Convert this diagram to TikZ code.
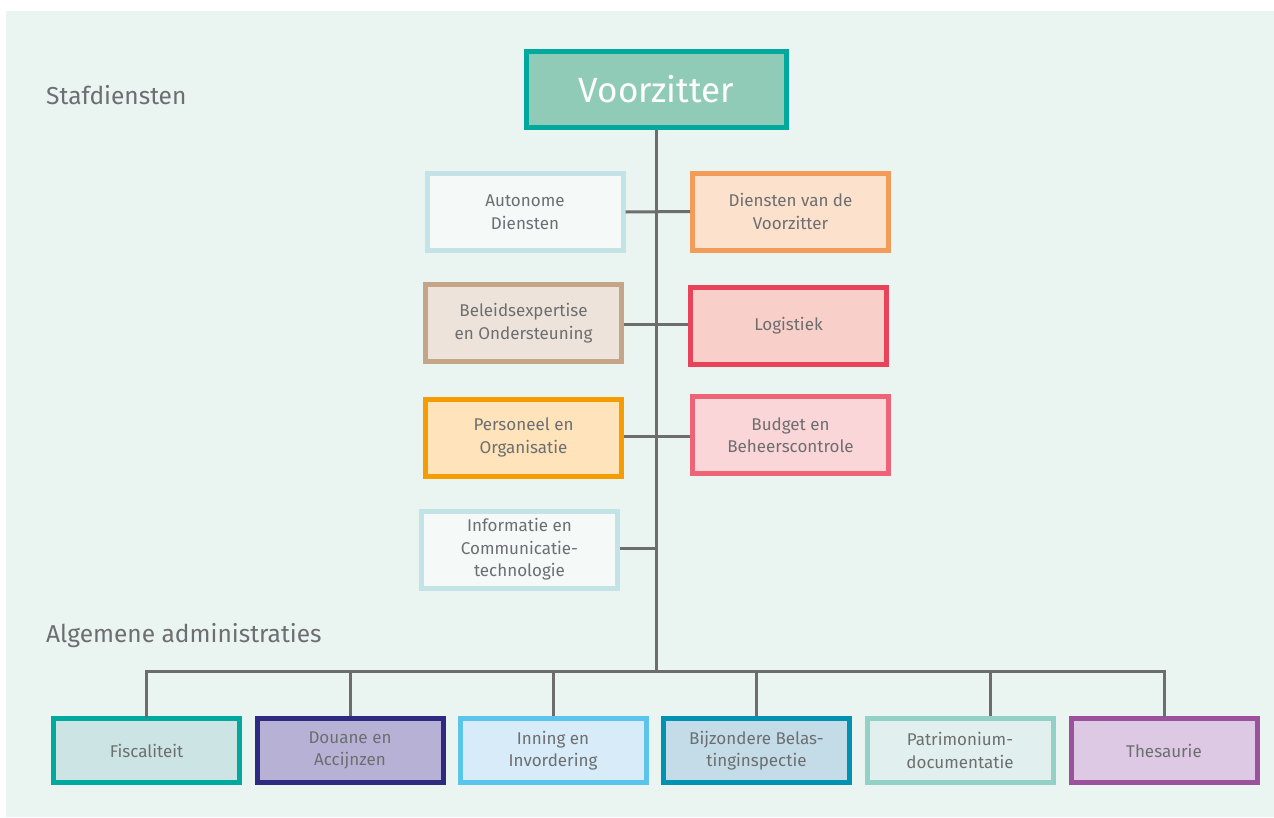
\documentclass[tikz,border=0pt]{standalone}
\usepackage{fontspec}
\setmainfont{Fira Sans}
\definecolor{bg}{HTML}{EAF4F0}
\definecolor{txt}{HTML}{6D6E70}
\definecolor{ln}{HTML}{6D6D6D}
\definecolor{vzB}{HTML}{00A99D}\definecolor{vzF}{HTML}{8FCBB6}
\definecolor{lbB}{HTML}{C3E3E6}\definecolor{lbF}{HTML}{F5F9F8}
\definecolor{orB}{HTML}{F39C5A}\definecolor{orF}{HTML}{FCE1CC}
\definecolor{tnB}{HTML}{C4A587}\definecolor{tnF}{HTML}{EDE3DB}
\definecolor{rdB}{HTML}{E8435A}\definecolor{rdF}{HTML}{F8CFC9}
\definecolor{yeB}{HTML}{F59C00}\definecolor{yeF}{HTML}{FFE3BB}
\definecolor{pkB}{HTML}{EC6476}\definecolor{pkF}{HTML}{FBD6D8}
\definecolor{fiB}{HTML}{00A99D}\definecolor{fiF}{HTML}{CCE5E4}
\definecolor{doB}{HTML}{2E2A7F}\definecolor{doF}{HTML}{B8B1D6}
\definecolor{inB}{HTML}{5BC4EB}\definecolor{inF}{HTML}{D7ECF8}
\definecolor{bjB}{HTML}{0092B2}\definecolor{bjF}{HTML}{C3DCE8}
\definecolor{paB}{HTML}{93D0C5}\definecolor{paF}{HTML}{E1F0EE}
\definecolor{thB}{HTML}{9B519C}\definecolor{thF}{HTML}{DDC9E3}
\tikzset{
  orgbox/.style={draw, line width=5pt, inner sep=0pt, align=center, text=txt,
    font=\fontsize{17}{22.5}\selectfont},
  topbox/.style={orgbox, minimum width=196pt, minimum height=77pt},
  botbox/.style={orgbox, minimum width=186pt, minimum height=64pt},
  conn/.style={draw=ln, line width=3pt},
  heading/.style={text=txt, font=\fontsize{24.5}{28}\selectfont, inner sep=0pt, anchor=base west}
}
\begin{document}
\begin{tikzpicture}[x=1pt,y=-1pt]
\useasboundingbox (0,0) rectangle (1274,817);
\fill[bg] (6,11) rectangle (1274,817);
\node[heading] (staf) at (46,104) {Stafdiensten};
\node[heading] (alg) at (46,642) {Algemene administraties};
\node[orgbox, draw=vzB, fill=vzF, text=white, minimum width=260pt, minimum height=76pt,
  font=\fontsize{35}{40}\selectfont] (vz) at (656.5,89.5) {Voorzitter};
\node[topbox, draw=lbB, fill=lbF] (auto) at (525,212) {Autonome\\Diensten};
\node[topbox, draw=orB, fill=orF] (dvv) at (790.5,211.5) {Diensten van de\\Voorzitter};
\node[topbox, draw=tnB, fill=tnF] (bel) at (523.5,323) {Beleidsexpertise\\en Ondersteuning};
\node[topbox, draw=rdB, fill=rdF] (log) at (788.5,326) {Logistiek};
\node[topbox, draw=yeB, fill=yeF] (pers) at (523.5,437.5) {Personeel en\\Organisatie};
\node[topbox, draw=pkB, fill=pkF] (bud) at (790.5,435) {Budget en\\Beheerscontrole};
\node[topbox, draw=lbB, fill=lbF] (ict) at (519.5,549.5) {Informatie en\\Communicatie-\\technologie};
\node[botbox, draw=fiB, fill=fiF] (fis) at (146.5,750.5) {Fiscaliteit};
\node[botbox, draw=doB, fill=doF] (dou) at (350,750.5) {Douane en\\Accijnzen};
\node[botbox, draw=inB, fill=inF] (inn) at (553,750.5) {Inning en\\Invordering};
\node[botbox, draw=bjB, fill=bjF] (bij) at (756.5,750.5) {Bijzondere Belas-\\tinginspectie};
\node[botbox, draw=paB, fill=paF] (pat) at (960,750.5) {Patrimonium-\\documentatie};
\node[botbox, draw=thB, fill=thF] (the) at (1164,750.5) {Thesaurie};
\coordinate (bus) at (656.5,671);
\coordinate (ictj) at (656.5,548);
\coordinate (patd) at (990,671);
\coordinate (patb) at (990,716);
\coordinate (busL) at (146.5,671);
\coordinate (busR) at (1164,671);
\draw[conn] (vz.south) -- (bus);
\draw[conn] (auto.east) -- (dvv.west);
\draw[conn] (bel.east |- 0,324) -- (log.west |- 0,324);
\draw[conn] (pers.east |- 0,436) -- (bud.west |- 0,436);
\draw[conn] (ict.east |- ictj) -- (ictj);
\draw[conn, line cap=rect] (fis.north) -- (busL) -- (busR) -- (the.north);
\draw[conn] (dou.north) -- (dou.north |- bus);
\draw[conn] (inn.north) -- (inn.north |- bus);
\draw[conn] (bij.north) -- (bij.north |- bus);
\draw[conn] (patb) -- (patd);
\end{tikzpicture}
\end{document}
